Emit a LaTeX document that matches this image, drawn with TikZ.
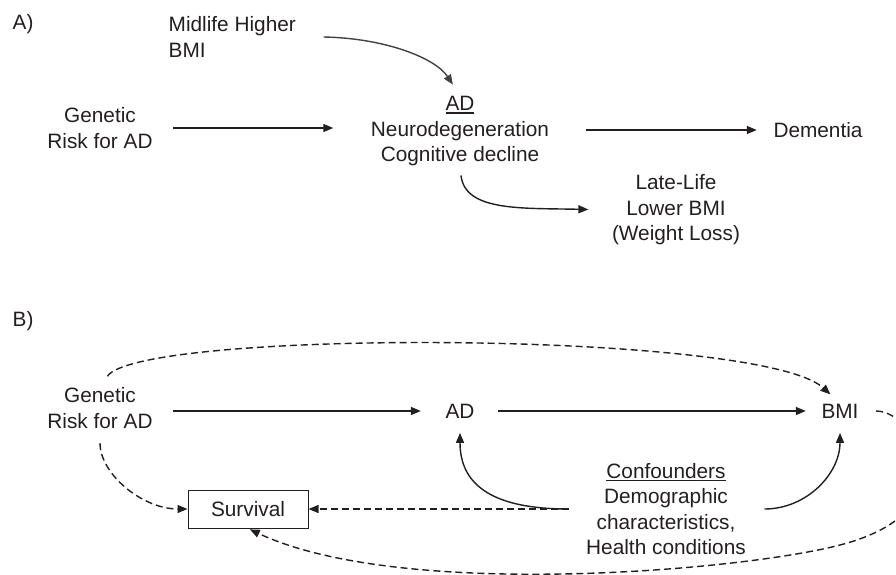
\documentclass[tikz,border=0pt]{standalone}
\usepackage{fontspec}
\setmainfont{Liberation Sans}
\usetikzlibrary{arrows.meta}
\definecolor{lin}{HTML}{231F20}
\newcommand\undl[1]{\setbox0\hbox{#1}\rlap{\rule[-3pt]{\wd0}{1.4pt}}\box0}

\begin{document}
\begin{tikzpicture}[x=1pt,y=-1pt,->,>={Triangle[length=10pt,width=8pt]},
                    line width=1.4pt,draw=lin,text=lin]
  \tikzstyle{every node}=[font=\fontsize{20.8}{25.5}\selectfont,inner sep=0pt,align=center]
  \tikzstyle{dashd}=[dash pattern=on 7pt off 4pt]
  \tikzstyle{box}=[draw=lin,line width=1pt,minimum width=120pt,minimum height=38pt]

  \useasboundingbox (0,0) rectangle (896,574);

  % A)
  \node[anchor=west] (labA) at (12,24) {A)};
  \node[anchor=west,align=left] (mid) at (168,37) {Midlife Higher\\BMI};
  \node (genA) at (100,128) {Genetic\\Risk for AD};
  \node (adA) at (460,131) {\undl{AD}\\Neurodegeneration\\Cognitive decline};
  \node (dem) at (818,130) {Dementia};
  \node (late) at (676,210) {Late-Life\\Lower BMI\\(Weight Loss)};

  \draw[shorten <=20pt,shorten >=37pt] (genA.east) -- (genA.east -| adA.west);
  \draw[shorten <=36pt,shorten >=16pt] (adA.east |- dem.west) -- (dem.west);
  \draw[draw=lin!85,shorten >=13pt] ([xshift=27pt]mid.east)
     .. controls +(60,1) and +(-25,-38) .. (adA.north);
  \draw[shorten <=9pt,shorten >=23pt] (adA.south)
     .. controls +(5,45) and +(-90,-2) .. (late.west);

  % B)
  \node[anchor=west] (labB) at (12,321) {B)};
  \node (genB) at (100,408) {Genetic\\Risk for AD};
  \node (adB) at (460,411) {AD};
  \node (bmi) at (840,411) {BMI};
  \node (conf) at (666,509) {\undl{Confounders}\\Demographic\\characteristics,\\Health conditions};
  \node[box] (surv) at (248,509) {Survival};

  \draw[shorten <=20pt,shorten >=24pt] (genB.east |- adB) -- (adB.west);
  \draw[shorten <=23pt,shorten >=15pt] (adB.east) -- (bmi.west);
  \draw[shorten <=17pt,shorten >=14pt] (conf.west)
     .. controls +(-90,0) and +(0,68) .. (adB.south);
  \draw[shorten <=18pt,shorten >=14pt] (conf.east)
     .. controls +(60,0) and +(0,55) .. (bmi.south);
  \draw[dashd,shorten <=17pt] (conf.west) -- (surv.east);
  \draw[dashd,shorten <=14pt] (genB.south)
     .. controls +(0,45) and +(-45,0) .. (surv.west);
  \draw[dashd,shorten <=13pt,shorten >=13pt] (genB.north)
     .. controls +(40,-58) and +(-80,-73) .. (bmi.north);
  \draw[dashd,shorten <=17pt,shorten >=2pt] (bmi.east)
     .. controls (915,411) and (975,510) .. (840,545)
     .. controls (740,571) and (400,600) .. (surv.south);
\end{tikzpicture}
\end{document}
